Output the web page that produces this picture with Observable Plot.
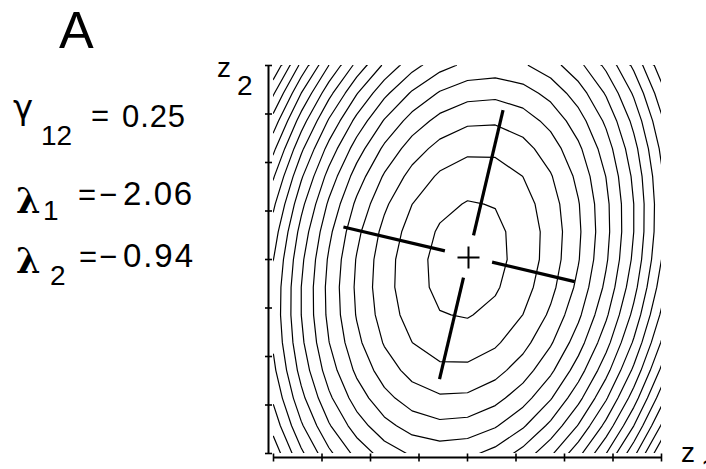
<!DOCTYPE html>
<html>
<head>
<meta charset="utf-8">
<script src="https://cdn.jsdelivr.net/npm/d3@7"></script>
<script src="https://cdn.jsdelivr.net/npm/@observablehq/plot@0.6"></script>
<style>
  html, body { margin: 0; padding: 0; background: #fff; }
  #chart { width: 706px; height: 469px; overflow: hidden; }
  #chart svg { display: block; }
</style>
</head>
<body>
<div id="chart"></div>
<script>
// Quadratic selection surface w(z) = z' Γ z and its canonical axes.
const gammaMatrix = [[-2, 0.25], [0.25, -1]];
const gamma12 = 0.25;
const eigenvalues = [-2.06, -0.94];

// Contour levels of w drawn on the surface.
const contourLevels = [-53.35, -50.3, -47.25, -44.2, -41.15, -38.1, -35.05, -32,
  -28.95, -25.9, -22.85, -19.8, -16.75, -13.7, -10.65, -7.6, -4.55, -1.5];

// Axis range and tick positions (z1 and z2 share them).
const zExtent = [-4, 4];
const zTicks = [-4, -3, -2, -1, 0, 1, 2, 3, 4];
const gridPoints = 15;

// Drawn pieces of each canonical axis, as distances from the stationary point.
const minorAxisSegments = [[-2.65, -0.5], [0.5, 2.25]];  // along eigenvector of λ1
const majorAxisSegments = [[-2.6, -0.45], [0.45, 3.1]];  // along eigenvector of λ2

const [[a, b], [, c]] = gammaMatrix;
const w = (z1, z2) => a * z1 * z1 + 2 * b * z1 * z2 + c * z2 * z2;

// Eigenvectors of Γ for the canonical axes
function eigenvector(lambda) {
  const v = [b, lambda - a];
  const n = Math.hypot(v[0], v[1]);
  return [v[0] / n, v[1] / n];
}
const disc = Math.sqrt(((a - c) / 2) ** 2 + b * b);
const lam1 = (a + c) / 2 - disc;
const lam2 = (a + c) / 2 + disc;
const v1 = eigenvector(lam1);
const v2 = eigenvector(lam2);
const axisLinks = [
  ...minorAxisSegments.map(([s, e]) => ({x1: s * v1[0], y1: s * v1[1], x2: e * v1[0], y2: e * v1[1]})),
  ...majorAxisSegments.map(([s, e]) => ({x1: s * v2[0], y1: s * v2[1], x2: e * v2[0], y2: e * v2[1]}))
];

// Sampling grid: one sample on every grid node of the axis range,
// the grid's outer edge sits half a step beyond the frame.
const step = (zExtent[1] - zExtent[0]) / (gridPoints - 1);
const half = zExtent[1] + step / 2;

// Custom stroked symbols: a short horizontal/vertical dash and a thin plus
const dashH = {draw(ctx, size) { const r = Math.sqrt(size / Math.PI); ctx.moveTo(-r, 0); ctx.lineTo(r, 0); }};
const dashV = {draw(ctx, size) { const r = Math.sqrt(size / Math.PI); ctx.moveTo(0, -r); ctx.lineTo(0, r); }};
const plusSym = {draw(ctx, size) { const r = Math.sqrt(size / Math.PI); ctx.moveTo(-r, 0); ctx.lineTo(r, 0); ctx.moveTo(0, -r); ctx.lineTo(0, r); }};

let contourMark;
if (typeof Plot.contour === "function") {
  contourMark = Plot.contour({
    value: (x, y) => w(x, y),
    x1: -half, x2: half, y1: -half, y2: half,
    width: gridPoints, height: gridPoints,
    thresholds: contourLevels,
    fill: "none", stroke: "black", strokeWidth: 1.2, clip: true
  });
} else {
  const values = new Float64Array(gridPoints * gridPoints);
  for (let j = 0; j < gridPoints; ++j)
    for (let i = 0; i < gridPoints; ++i)
      values[j * gridPoints + i] = w(zExtent[0] + i * step, zExtent[0] + j * step);
  const rings = [];
  let id = 0;
  for (const poly of d3.contours().size([gridPoints, gridPoints]).thresholds(contourLevels)(values)) {
    for (const polygon of poly.coordinates) for (const ring of polygon) {
      const pts = ring.concat([ring[0]]);
      for (const [gx, gy] of pts) rings.push({x: -half + gx * step, y: -half + gy * step, ring: id});
      id++;
    }
  }
  contourMark = Plot.line(rings, {x: "x", y: "y", z: "ring", stroke: "black", strokeWidth: 1.2, clip: true});
}

const plot = Plot.plot({
  width: 706,
  height: 469,
  marginLeft: 273,
  marginRight: 45,
  marginTop: 65,
  marginBottom: 16,
  x: {domain: zExtent, axis: null},
  y: {domain: zExtent, axis: null},
  style: {background: "white", color: "black"},
  marks: [
    contourMark,
    // left axis (z2) and bottom axis (z1), drawn just outside the frame
    Plot.ruleX([zExtent[0]], {y1: () => zExtent[0], y2: () => zExtent[1], dx: -5, stroke: "black", strokeWidth: 2}),
    Plot.ruleY([zExtent[0]], {x1: () => zExtent[0], x2: () => zExtent[1], dy: 4, stroke: "black", strokeWidth: 2}),
    Plot.dot(zTicks, {x: () => zExtent[0], y: d => d, symbol: dashH, r: 3.5, dx: -5, fill: "none", stroke: "black", strokeWidth: 1.6}),
    Plot.dot(zTicks, {x: d => d, y: () => zExtent[0], symbol: dashV, r: 4, dy: 4, fill: "none", stroke: "black", strokeWidth: 1.6}),
    // canonical axes and the stationary point
    Plot.link(axisLinks, {x1: "x1", y1: "y1", x2: "x2", y2: "y2", dx: 1, dy: -3, stroke: "black", strokeWidth: 3.2}),
    Plot.dot([0], {x: () => 0, y: () => 0, symbol: plusSym, r: 11, dx: 1, dy: -2, fill: "none", stroke: "black", strokeWidth: 2})
  ]
});
document.getElementById("chart").appendChild(plot);

// Panel letter, coefficients and axis names
const svg = d3.select(plot);
function put(x, y, text, size, extra = {}) {
  const t = svg.append("text")
    .attr("x", x).attr("y", y)
    .attr("text-anchor", "start")
    .attr("font-family", extra.family || "'Liberation Sans', Arial, sans-serif")
    .attr("font-size", size)
    .attr("font-weight", extra.weight || "normal")
    .attr("fill", "black")
    .text(text);
  if (extra.length) t.attr("textLength", extra.length);
  return t;
}
const sign = v => (v < 0 ? "\u2212" : "");
const mag = v => Math.abs(v).toFixed(2);

put(59, 48, "A", 52);

put(13, 119, "\u03B3", 34, {family: "'DejaVu Sans', sans-serif"});
put(41, 145, "12", 28);
put(91, 126, "=", 31);
put(122, 127, gamma12.toFixed(2), 31, {length: 63});

put(16, 213, "\u03BB", 35, {family: "'DejaVu Serif', serif", weight: "bold"});
put(43, 220, "1", 28);
put(78, 205, "=", 31);
put(99, 205, sign(eigenvalues[0]), 31);
put(123, 205, mag(eigenvalues[0]), 33, {length: 69});

put(16, 273, "\u03BB", 35, {family: "'DejaVu Serif', serif", weight: "bold"});
put(50, 285, "2", 28);
put(79, 267, "=", 31);
put(99, 267, sign(eigenvalues[1]), 31);
put(123, 267, mag(eigenvalues[1]), 33, {length: 70});

put(217, 77, "z", 28);
put(237, 95, "2", 28);
put(681, 462, "z", 28);
put(701, 478, "1", 28);
</script>
</body>
</html>
